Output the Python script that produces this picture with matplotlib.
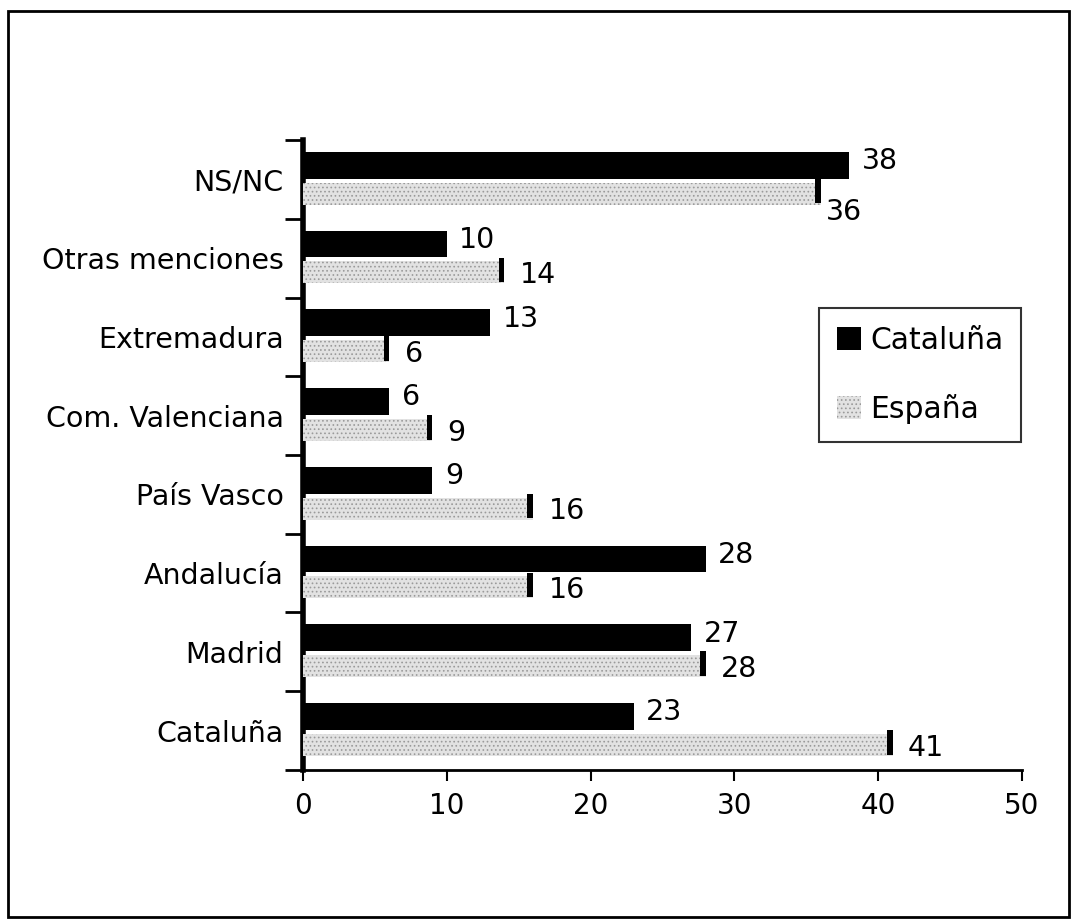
import matplotlib.pyplot as plt
import numpy as np
from matplotlib.patches import Rectangle

# categorias de abajo hacia arriba
categorias = ['Cataluña', 'Madrid', 'Andalucía', 'País Vasco', 'Com. Valenciana',
              'Extremadura', 'Otras menciones', 'NS/NC']
cataluna = [23, 27, 28, 9, 6, 13, 10, 38]
espana = [41, 28, 16, 16, 9, 6, 14, 36]
xticks = [0, 10, 20, 30, 40, 50]

plt.rcParams['font.family'] = ['DejaVu Sans']
plt.rcParams['hatch.linewidth'] = 0.7

fig = plt.figure(figsize=(10.75, 9.23), dpi=100)
ax = fig.add_axes([0.2819, 0.1658, 0.6688, 0.6825])

y = np.arange(len(categorias))
h = 0.31
off = 0.18

# barras
ax.barh(y + off, cataluna, height=h + 0.03, color='black', label='Cataluña', zorder=3)
ax.barh(y - off, espana, height=h - 0.03, color='#e2e2e2', edgecolor='#9a9a9a',
        hatch='....', linewidth=0, label='España', zorder=3)
# borde "3D" al final de las barras de España
ax.barh(y - off + 0.03, [-0.4] * len(espana), left=espana, height=h,
        color='black', zorder=4)

# etiquetas de valores
for i in range(len(categorias)):
    ax.annotate(str(cataluna[i]), (cataluna[i], y[i] + off), xytext=(9, 3),
                textcoords='offset points', va='center', ha='left', fontsize=20.5)
    if i == len(categorias) - 1:
        dx, dy = 4, -13
    else:
        dx, dy = 11, -2
    ax.annotate(str(espana[i]), (espana[i], y[i] - off), xytext=(dx, dy),
                textcoords='offset points', va='center', ha='left', fontsize=20.5)

ax.set_xlim(0, 50)
ax.set_ylim(-0.5, len(categorias) - 0.5)
ax.set_xticks(xticks)
ax.set_yticks(y)
ax.set_yticklabels(categorias)
ax.set_yticks(np.arange(len(categorias) + 1) - 0.5, minor=True)
ax.tick_params(axis='y', which='major', length=0, pad=14, labelsize=20.5)
ax.tick_params(axis='y', which='minor', length=13, width=2, direction='out')
ax.tick_params(axis='x', length=8, width=1.5, direction='out', labelsize=20, pad=8)

ax.spines['top'].set_visible(False)
ax.spines['right'].set_visible(False)
ax.spines['left'].set_linewidth(4)
ax.spines['bottom'].set_linewidth(2)

leg = ax.legend(loc='upper left', bbox_to_anchor=(0.718, 0.733), fontsize=21.5,
                frameon=True, fancybox=False, edgecolor='black', handlelength=0.8,
                handleheight=0.8, handletextpad=0.3, borderpad=0.6, labelspacing=1.3,
                borderaxespad=0)
leg.get_frame().set_linewidth(1.5)

# marco exterior
fig.patches.append(Rectangle((0.007, 0.006), 0.987, 0.982, transform=fig.transFigure,
                             fill=False, edgecolor='black', linewidth=2))

plt.savefig('out.png', dpi=100)
